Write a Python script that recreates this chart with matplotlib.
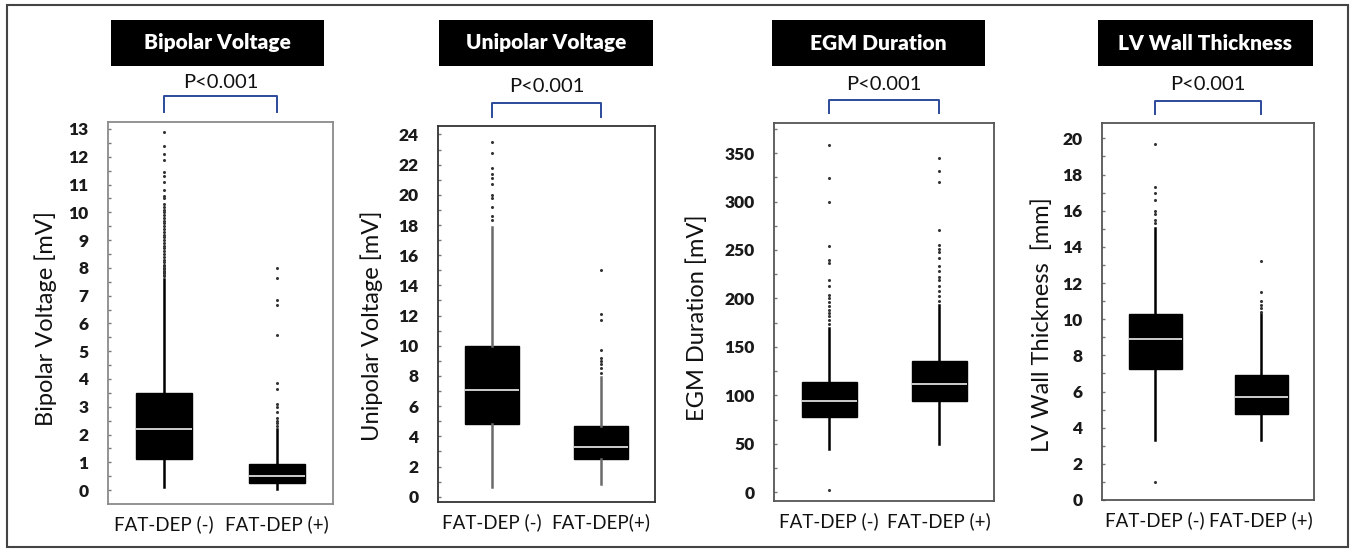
import numpy as np
import matplotlib
matplotlib.use('Agg')
import matplotlib.pyplot as plt
import matplotlib.transforms as mtransforms
from matplotlib.patches import Rectangle
from matplotlib.lines import Line2D

plt.rcParams['font.family'] = ['Lato', 'DejaVu Sans']

W, H = 1352, 549

groups = ['FAT-DEP (-)', 'FAT-DEP (+)']
groups_uni = ['FAT-DEP (-)', 'FAT-DEP(+)']

# box stats: [FAT-DEP(-), FAT-DEP(+)]
bip_q1 = [1.13, 0.25]
bip_med = [2.2, 0.5]
bip_q3 = [3.5, 0.95]
bip_lo = [0.1, 0.05]
bip_hi = [7.6, 2.2]
bip_out_neg = [7.7, 7.75, 7.8, 7.85, 7.9, 7.95, 8.0, 8.05, 8.1, 8.2, 8.3, 8.4, 8.5, 8.6, 8.7,
               8.8, 8.9, 9.0, 9.1, 9.2, 9.3, 9.4, 9.5, 9.6, 9.7, 9.8, 9.9, 10.0, 10.1, 10.2,
               10.3, 10.5, 10.6, 10.8, 11.1, 11.3, 11.45, 11.9, 12.1, 12.4, 12.9]
bip_out_pos = [2.3, 2.4, 2.5, 2.6, 2.8, 3.0, 3.1, 3.65, 3.85, 5.6, 6.65, 6.85, 7.65, 8.0]

uni_q1 = [4.8, 2.5]
uni_med = [7.1, 3.3]
uni_q3 = [10.0, 4.66]
uni_lo = [0.63, 0.86]
uni_hi = [17.9, 7.9]
uni_out_neg = [18.3, 18.6, 19.2, 19.8, 20.0, 20.7, 21.1, 21.4, 21.8, 22.8, 23.5]
uni_out_pos = [8.2, 8.5, 8.8, 9.0, 9.2, 9.7, 11.7, 12.1, 15.0]

egm_q1 = [78, 94]
egm_med = [94, 112]
egm_q3 = [114, 135]
egm_lo = [45, 50]
egm_hi = [170, 193]
egm_out_neg = [2, 174, 178, 182, 185, 188, 192, 196, 200, 204, 213, 219, 237, 240, 254, 299, 324, 358]
egm_out_pos = [197, 202, 208, 213, 219, 222, 228, 233, 242, 248, 251, 255, 271, 320, 331, 345]

lvw_q1 = [7.25, 4.75]
lvw_med = [8.93, 5.67]
lvw_q3 = [10.3, 6.9]
lvw_lo = [3.3, 3.3]
lvw_hi = [15.05, 10.3]
lvw_out_neg = [1.0, 15.3, 15.5, 15.8, 16.0, 16.6, 17.0, 17.3, 19.7]
lvw_out_pos = [10.4, 10.6, 10.8, 11.0, 11.5, 13.2]

titles = ['Bipolar Voltage', 'Unipolar Voltage', 'EGM Duration', 'LV Wall Thickness']
ylabels = ['Bipolar Voltage [mV]', 'Unipolar Voltage [mV]', 'EGM Duration [mV]',
           'LV Wall Thickness  [mm]']
p_text = 'P<0.001'


def stats(q1, med, q3, lo, hi, out_neg, out_pos):
    outs = [out_neg, out_pos]
    return [dict(q1=q1[i], med=med[i], q3=q3[i], whislo=lo[i], whishi=hi[i],
                 fliers=np.array(outs[i])) for i in range(2)]


data = [
    stats(bip_q1, bip_med, bip_q3, bip_lo, bip_hi, bip_out_neg, bip_out_pos),
    stats(uni_q1, uni_med, uni_q3, uni_lo, uni_hi, uni_out_neg, uni_out_pos),
    stats(egm_q1, egm_med, egm_q3, egm_lo, egm_hi, egm_out_neg, egm_out_pos),
    stats(lvw_q1, lvw_med, lvw_q3, lvw_lo, lvw_hi, lvw_out_neg, lvw_out_pos),
]
xlabels = [groups, groups_uni, groups, groups]

# layout in pixels (left, top, right, bottom)
axes_px = [(108, 122, 333, 504), (438, 126, 655, 502), (774, 123, 994, 501), (1102, 123, 1314, 500)]
title_px = [(111, 20, 324, 66), (439, 20, 653, 66), (772, 20, 985, 66), (1098, 20, 1313, 66)]
ylims = [(-0.5, 13.25), (-0.35, 24.56), (-9, 381), (0, 20.85)]
major = [1, 2, 50, 2]
top_tick = [13, 24, 350, 20]
bracket_px = [(96, 112, 83), (103, 117, 86), (100, 113, 85), (101, 114, 85)]
ylabel_px = [(46, 319), (372, 326), (697, 318), (1042, 325)]
spine_col = ['#8a8a8a', '#333333', '#555555', '#555555']
whisk_col = ['black', '#6a6a6a', 'black', 'black']

fig = plt.figure(figsize=(W / 100, H / 100), dpi=100)

for i in range(4):
    l, t, r, b = axes_px[i]
    ax = fig.add_axes([l / W, 1 - b / H, (r - l) / W, (b - t) / H])
    ax.bxp(data[i], positions=[1, 2], widths=0.5, patch_artist=True, showcaps=False,
           boxprops=dict(facecolor='black', edgecolor='black', linewidth=1),
           medianprops=dict(color='#dddddd', linewidth=1.3),
           whiskerprops=dict(color=whisk_col[i], linewidth=1.8),
           flierprops=dict(marker='o', markersize=2.2, markerfacecolor='#333333',
                           markeredgecolor='none'))
    ax.set_xlim(0.5, 2.5)
    ax.set_ylim(*ylims[i])
    yt = np.arange(0, top_tick[i] + 0.1, major[i])
    ax.set_yticks(yt, [f'{v:g}' for v in yt], fontweight='heavy', fontsize=12.5, color='#1a1a1a')
    ax.set_yticks(np.arange(0, ylims[i][1], major[i] / 2), minor=True)
    ax.set_xticks([1, 2], xlabels[i], fontsize=13.5, color='#111111')
    ax.tick_params(axis='x', length=0, pad=8)
    ax.tick_params(axis='y', which='both', direction='in', length=2.5, width=1,
                   color='#777777', pad=14)
    for s in ax.spines.values():
        s.set_color(spine_col[i])
        s.set_linewidth(1.3)

    # title box
    tl, tt, tr, tb = title_px[i]
    fig.add_artist(Rectangle((tl / W, 1 - tb / H), (tr - tl) / W, (tb - tt) / H,
                             transform=fig.transFigure, facecolor='black', edgecolor='none'))
    fig.text((tl + tr) / 2 / W, 1 - (tt + tb) / 2 / H, titles[i], color='white',
             fontsize=15, fontweight='heavy', ha='center', va='center')

    # significance bracket
    y_top, y_bot, y_txt = bracket_px[i]
    tr_b = mtransforms.blended_transform_factory(ax.transData, fig.transFigure)
    fig.add_artist(Line2D([1, 1, 2, 2], [1 - y_bot / H, 1 - y_top / H, 1 - y_top / H, 1 - y_bot / H],
                          transform=tr_b, color='#2b4a9a', linewidth=1.4))
    fig.text(1.5, 1 - y_txt / H, p_text, transform=tr_b, fontsize=14.5, color='#111111',
             ha='center', va='center')

    fig.text(ylabel_px[i][0] / W, 1 - ylabel_px[i][1] / H, ylabels[i], rotation=90,
             fontsize=17, color='#111111', ha='center', va='center')

# outer frame
fig.add_artist(Rectangle((7 / W, 1 - 547 / H), (1348 - 7) / W, (547 - 5) / H,
                         transform=fig.transFigure, facecolor='none', edgecolor='#444444',
                         linewidth=1.5))

fig.savefig('out.png', dpi=100)
